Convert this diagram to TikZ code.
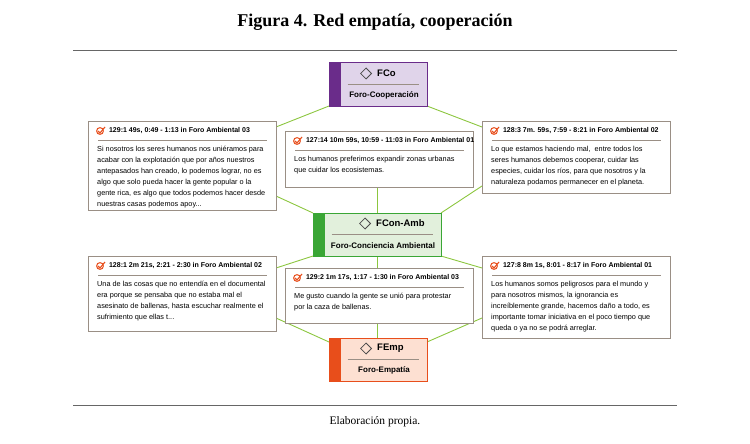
\documentclass[tikz,border=0pt]{standalone}
\usepackage{fontspec}
\setmainfont{Liberation Sans}
\newfontfamily\titlefont{Liberation Serif}
\usetikzlibrary{positioning,shapes.geometric}
\definecolor{linkgreen}{HTML}{8CC63F}
\definecolor{boxgray}{HTML}{9A8F85}
\definecolor{cooppurple}{HTML}{6A2C8A}
\definecolor{cooplight}{HTML}{E0D4EA}
\definecolor{ambgreen}{HTML}{3AA635}
\definecolor{amblight}{HTML}{E2F0DC}
\definecolor{emporange}{HTML}{E84E1B}
\definecolor{emplight}{HTML}{FDE0D2}
\definecolor{checkred}{HTML}{E8501E}
\tikzset{
  code/.style = {rectangle, draw=#1, line width=1pt, minimum height=43pt, inner sep=0pt},
  quote/.style = {rectangle, draw=boxgray, line width=0.8pt, fill=white, minimum width=188pt, inner sep=0pt},
  head/.style = {anchor=west, inner sep=0pt, font=\fontsize{7}{8}\selectfont\bfseries},
  body/.style = {anchor=north west, inner sep=0pt, align=left,
    font=\fontsize{7.3}{11}\selectfont},
  link/.style = {draw=linkgreen, line width=0.9pt},
  rule/.style = {draw=boxgray, line width=0.9pt}
}
\newcommand{\codebox}[7]{% name, x, y, width, dark, light, label
  \node[code=#5, fill=#6, minimum width=#4pt] (#1) at (#2,#3) {};
  \fill[#5] (#1.north west) rectangle ([xshift=12pt]#1.south west);
  \node[diamond, draw=black!70, thick, inner sep=2.8pt] (#1d) at ([xshift=-12pt,yshift=-11pt]#1.north) {};
  \node[anchor=west, inner sep=0pt, font=\fontsize{9.5}{10}\selectfont\bfseries] at ([xshift=5pt]#1d.east) {#7};
  \draw[rule] ([xshift=19pt,yshift=-22pt]#1.north west) -- ([xshift=-9pt,yshift=-22pt]#1.north east);
}
\newcommand{\quotebox}[6]{% name, x, y(top), height, head, body
  \node[quote, minimum height=#4pt, anchor=north west] (#1) at (#2,#3) {};
  \node[circle, draw=checkred, line width=1pt, inner sep=2.4pt] (#1c) at ([xshift=12pt,yshift=-10pt]#1.north west) {};
  \draw[checkred, line width=1.1pt] ([xshift=-2pt]#1c.center) -- ([yshift=-2pt]#1c.center) -- ([xshift=5pt,yshift=4pt]#1c.center);
  \node[head] (#1h) at ([xshift=5pt]#1c.east) {#5};
  \draw[rule] ([xshift=10pt,yshift=-19pt]#1.north west) -- ([xshift=-10pt,yshift=-19pt]#1.north east);
  \node[body] (#1b) at ([xshift=9pt,yshift=-25pt]#1.north west) {#6};
}
\begin{document}
\begin{tikzpicture}[x=1pt,y=-1pt]
\useasboundingbox (0,0) rectangle (750,444);
% title and rules
\node[font=\titlefont\fontsize{18}{19}\selectfont\bfseries] (title) at (375,22) {Figura 4. Red empatía, cooperación};
\draw[black!60, line width=0.8pt] (73,50) -- (677,50);
\draw[black!60, line width=0.8pt] (73,405) -- (677,405);
\node[font=\titlefont\fontsize{11.5}{12}\selectfont] (source) at (375,422) {Elaboración propia.};

% links first, boxes on top
\draw[link] (329,106) -- (276,127) (427,106) -- (482,127);
\draw[link] (276,196) -- (313,213) (482,186) -- (441,213);
\draw[link] (313,256) -- (276,268) (441,256) -- (482,268);
\draw[link] (276,318) -- (329,342) (482,318) -- (427,342);
\draw[link] (377,187) -- (377,213) (377,256) -- (377,268) (377,323) -- (377,338);

\codebox{FCo}{378}{84.5}{98}{cooppurple}{cooplight}{FCo}
\node[font=\fontsize{8}{9}\selectfont\bfseries] at ([xshift=6pt,yshift=-11pt]FCo.center) {Foro-Cooperación};
\codebox{FAmb}{377}{234.5}{128}{ambgreen}{amblight}{FCon-Amb}
\node[font=\fontsize{8}{9}\selectfont\bfseries] at ([xshift=6pt,yshift=-11pt]FAmb.center) {Foro-Conciencia Ambiental};
\codebox{FEmp}{378}{359.5}{98}{emporange}{emplight}{FEmp}
\node[font=\fontsize{8}{9}\selectfont\bfseries] at ([xshift=6pt,yshift=-11pt]FEmp.center) {Foro-Empatía};

% quotations
\quotebox{q1}{88}{121}{89}{129:1 49s, 0:49 - 1:13 in Foro Ambiental 03}{Si nosotros los seres humanos nos uniéramos para\\acabar con la explotación que por años nuestros\\antepasados han creado, lo podemos lograr, no es\\algo que solo pueda hacer la gente popular o la\\gente rica, es algo que todos podemos hacer desde\\nuestras casas podemos apoy...}
\quotebox{q2}{285}{131}{56}{127:14 10m 59s, 10:59 - 11:03 in Foro Ambiental 01}{Los humanos preferimos expandir zonas urbanas\\que cuidar los ecosistemas.}
\quotebox{q3}{482}{121}{72}{128:3 7m. 59s, 7:59 - 8:21 in Foro Ambiental 02}{Lo que estamos haciendo mal,\ \ entre todos los\\seres humanos debemos cooperar, cuidar las\\especies, cuidar los ríos, para que nosotros y la\\naturaleza podamos permanecer en el planeta.}
\quotebox{q4}{88}{256}{75}{128:1 2m 21s, 2:21 - 2:30 in Foro Ambiental 02}{Una de las cosas que no entendía en el documental\\era porque se pensaba que no estaba mal el\\asesinato de ballenas, hasta escuchar realmente el\\sufrimiento que ellas t...}
\quotebox{q5}{285}{268}{55}{129:2 1m 17s, 1:17 - 1:30 in Foro Ambiental 03}{Me gusto cuando la gente se unió para protestar\\por la caza de ballenas.}
\quotebox{q6}{482}{256}{82}{127:8 8m 1s, 8:01 - 8:17 in Foro Ambiental 01}{Los humanos somos peligrosos para el mundo y\\para nosotros mismos, la ignorancia es\\increíblemente grande, hacemos daño a todo, es\\importante tomar iniciativa en el poco tiempo que\\queda o ya no se podrá arreglar.}
\end{tikzpicture}
\end{document}
